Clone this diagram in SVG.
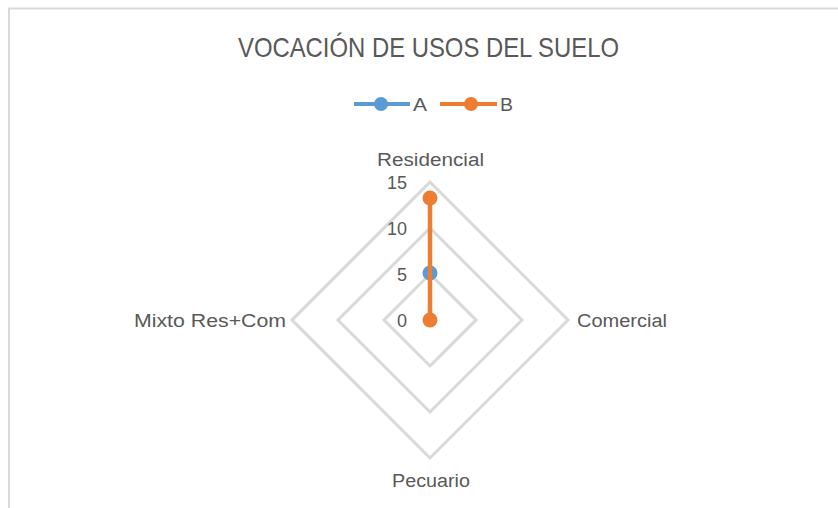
<svg xmlns="http://www.w3.org/2000/svg" width="838" height="508" viewBox="0 0 838 508">
<style>
.t{font-family:"Liberation Sans",Arial,sans-serif;fill:#595959}
.grid{fill:none;stroke:#D9D9D9;stroke-width:3}
</style>
<rect x="0" y="0" width="838" height="508" fill="#fff"/>
<rect x="9" y="8.5" width="840" height="510" fill="#fff" stroke="#D9D9D9" stroke-width="2"/>
<g id="title"><text class="t" x="238" y="57" font-size="28" textLength="381" lengthAdjust="spacingAndGlyphs">VOCACIÓN DE USOS DEL SUELO</text></g>
<g id="legend">
<line x1="354" y1="104" x2="410" y2="104" stroke="#5B9BD5" stroke-width="4"/>
<circle cx="381" cy="104" r="7" fill="#5B9BD5"/>
<text class="t" x="413" y="111" font-size="18" textLength="14" lengthAdjust="spacingAndGlyphs">A</text>
<line x1="440" y1="104" x2="497" y2="104" stroke="#ED7D31" stroke-width="4"/>
<circle cx="471" cy="104" r="7" fill="#ED7D31"/>
<text class="t" x="500" y="111" font-size="18" textLength="13" lengthAdjust="spacingAndGlyphs">B</text>
</g>
<g id="grid">
<polygon class="grid" points="430,274 476,320 430,366 384,320"/>
<polygon class="grid" points="430,228 522,320 430,412 338,320"/>
<polygon class="grid" points="430,182 568,320 430,458 292,320"/>
</g>
<g id="ticks" class="t" font-size="18" text-anchor="end">
<text x="407" y="189">15</text>
<text x="407" y="235">10</text>
<text x="407" y="281">5</text>
<text x="407" y="327">0</text>
</g>
<g id="axis-labels" class="t" font-size="18">
<text x="377" y="166" textLength="107" lengthAdjust="spacingAndGlyphs">Residencial</text>
<text x="577" y="327" textLength="90" lengthAdjust="spacingAndGlyphs">Comercial</text>
<text x="392" y="487" textLength="78" lengthAdjust="spacingAndGlyphs">Pecuario</text>
<text x="134" y="327" textLength="152" lengthAdjust="spacingAndGlyphs">Mixto Res+Com</text>
</g>
<g id="series-A">
<circle cx="430" cy="273" r="7.5" fill="#5B9BD5"/>
</g>
<g id="series-B">
<line x1="430" y1="198" x2="430" y2="320" stroke="#ED7D31" stroke-width="4.5"/>
<circle cx="430" cy="198" r="7.5" fill="#ED7D31"/>
<circle cx="430" cy="320" r="7.5" fill="#ED7D31"/>
</g>
</svg>
